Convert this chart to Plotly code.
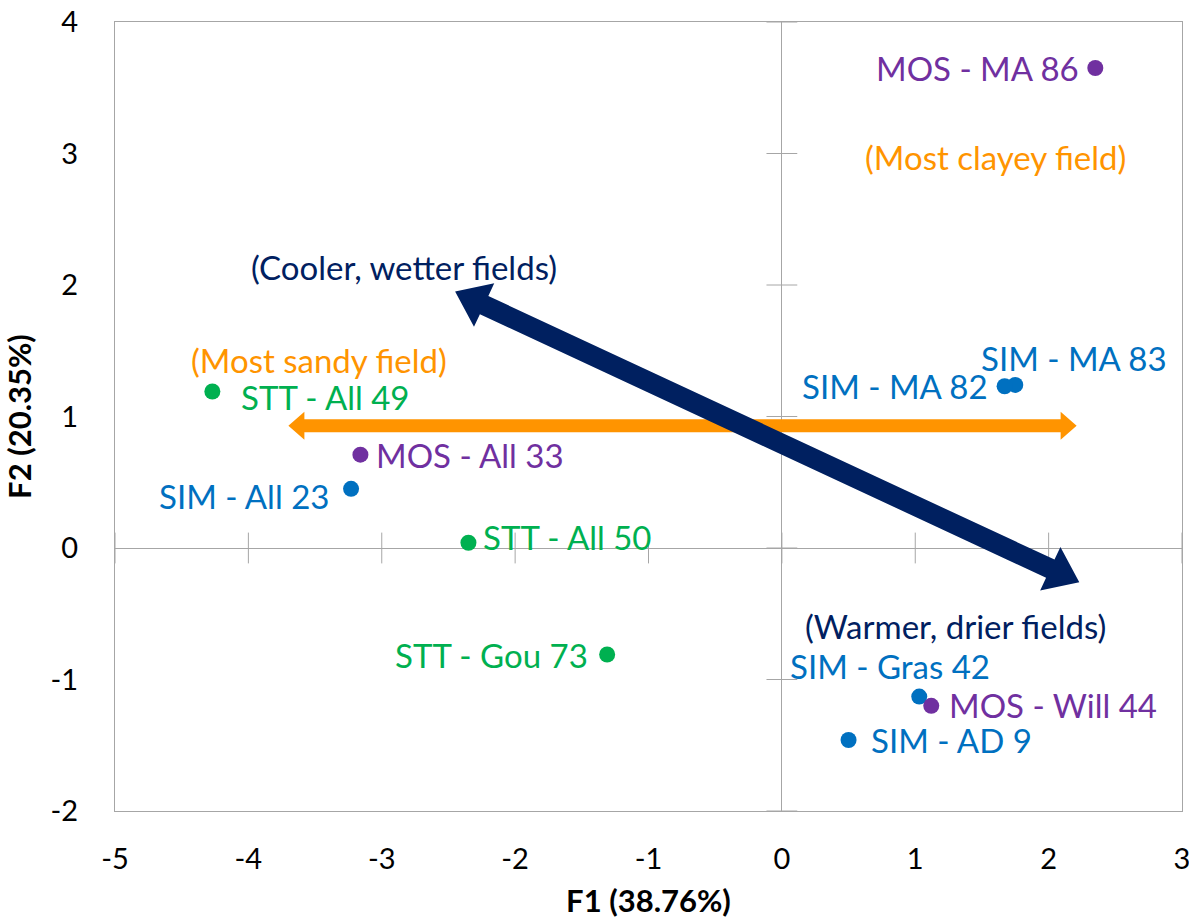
import plotly.graph_objects as go
import numpy as np

# ---------------- data ----------------
labels = ["MOS - MA 86", "SIM - MA 83", "SIM - MA 82", "STT - All 49", "MOS - All 33",
          "SIM - All 23", "STT - All 50", "STT - Gou 73", "SIM - Gras 42", "MOS - Will 44", "SIM - AD 9"]
groups = ["MOS", "SIM", "SIM", "STT", "MOS", "SIM", "STT", "STT", "SIM", "MOS", "SIM"]
f1 = [2.35, 1.75, 1.67, -4.27, -3.16, -3.23, -2.35, -1.31, 1.03, 1.12, 0.50]
f2 = [3.65, 1.24, 1.23, 1.19, 0.71, 0.45, 0.04, -0.81, -1.13, -1.20, -1.46]

x_ticks = [-5, -4, -3, -2, -1, 0, 1, 2, 3]
y_ticks = [-2, -1, 0, 1, 2, 3, 4]
x_tick_text = ["-5", "-4", "-3", "-2", "-1", "0", "1", "2", "3"]
y_tick_text = ["-2", "-1", "0", "1", "2", "3", "4"]

# arrows (data coordinates of tips)
climate_arrow = [(-2.45, 1.95), (2.23, -0.26)]
texture_arrow = [(-3.70, 0.93), (2.21, 0.93)]

# ---------------- style ----------------
colors = {"MOS": "#7030A0", "SIM": "#0070C0", "STT": "#00B050"}
NAVY = "#002060"
ORANGE = "#FF9400"
GRID = "#A6A6A6"
FONT = "Lato"

# label placement: (xanchor, xshift px, yshift px)
label_pos = [("right", -14, 0), ("center", 59, 27), ("right", -15, 0), ("left", 27, -5),
             ("left", 14, 0), ("right", -20, -7), ("left", 13, 6), ("right", -17, 0),
             ("center", -29, 31), ("left", 16, 1), ("left", 20, 0)]

W, H = 1189, 919
ML, MR, MT, MB = 115, 7, 22, 108
XR = [-5, 3]
YR = [-2, 4]
PW, PH = W - ML - MR, H - MT - MB
sx = PW / (XR[1] - XR[0])
sy = PH / (YR[1] - YR[0])


def arrow_path(p0, p1, half_shaft, head_len, head_half):
    a = np.array([p0[0] * sx, p0[1] * sy])
    b = np.array([p1[0] * sx, p1[1] * sy])
    d = b - a
    L = np.linalg.norm(d)
    u = d / L
    n = np.array([-u[1], u[0]])
    pts = [
        a,
        a + u * head_len + n * head_half,
        a + u * head_len + n * half_shaft,
        b - u * head_len + n * half_shaft,
        b - u * head_len + n * head_half,
        b,
        b - u * head_len - n * head_half,
        b - u * head_len - n * half_shaft,
        a + u * head_len - n * half_shaft,
        a + u * head_len - n * head_half,
    ]
    s = "M " + " L ".join(f"{p[0] / sx:.5f},{p[1] / sy:.5f}" for p in pts) + " Z"
    return s


fig = go.Figure()

# tick marks crossing the zero axes
fig.add_trace(go.Scatter(x=[0] * len(y_ticks), y=y_ticks, mode="markers",
                         marker=dict(symbol="line-ew", size=22, line=dict(color=GRID, width=1)),
                         hoverinfo="skip", showlegend=False))
fig.add_trace(go.Scatter(x=x_ticks, y=[0] * len(x_ticks), mode="markers",
                         marker=dict(symbol="line-ns", size=22, line=dict(color=GRID, width=1)),
                         hoverinfo="skip", showlegend=False))

# arrows
fig.add_shape(type="path", path=arrow_path(texture_arrow[0], texture_arrow[1], 6.5, 16, 14),
              xref="x", yref="y", fillcolor=ORANGE, line=dict(width=0))
fig.add_shape(type="path", path=arrow_path(climate_arrow[0], climate_arrow[1], 10, 32, 24),
              xref="x", yref="y", fillcolor=NAVY, line=dict(width=0))

# points
for g in ["SIM", "MOS", "STT"]:
    idx = [i for i, gg in enumerate(groups) if gg == g]
    fig.add_trace(go.Scatter(x=[f1[i] for i in idx], y=[f2[i] for i in idx], mode="markers",
                             marker=dict(size=16, color=colors[g]), name=g, showlegend=False))

for i, lab in enumerate(labels):
    xa, xs, ys = label_pos[i]
    fig.add_annotation(x=f1[i], y=f2[i], text=lab, showarrow=False, xanchor=xa, yanchor="middle",
                       xshift=xs, yshift=ys, font=dict(family=FONT, size=33, color=colors[groups[i]]))

notes = [("(Cooler, wetter fields)", -2.83, 2.14, NAVY),
         ("(Warmer, drier fields)", 1.30, -0.59, NAVY),
         ("(Most sandy field)", -3.47, 1.43, ORANGE),
         ("(Most clayey field)", 1.60, 2.97, ORANGE)]
for t, x, y, c in notes:
    fig.add_annotation(x=x, y=y, text=t, showarrow=False, xanchor="center", yanchor="middle",
                       font=dict(family=FONT, size=33, color=c))

fig.update_layout(
    width=W, height=H,
    margin=dict(l=ML, r=MR, t=MT, b=MB, autoexpand=False),
    plot_bgcolor="white", paper_bgcolor="white",
    showlegend=False,
    font=dict(family=FONT, color="black"),
)
fig.update_xaxes(range=XR, tickvals=x_ticks, ticktext=x_tick_text, showgrid=False, zeroline=True,
                 zerolinecolor=GRID, zerolinewidth=1, showline=True, linecolor=GRID, linewidth=1,
                 mirror=True, ticks="", tickfont=dict(size=29, family=FONT), ticklabelstandoff=22,
                 automargin=False, ticklabeloverflow="allow",
                 title=dict(text="<b>F1 (38.76%)</b>", font=dict(size=31, family=FONT), standoff=18))
fig.update_yaxes(range=YR, tickvals=y_ticks, ticktext=y_tick_text, showgrid=False, zeroline=True,
                 zerolinecolor=GRID, zerolinewidth=1, showline=True, linecolor=GRID, linewidth=1,
                 mirror=True, ticks="", tickfont=dict(size=29, family=FONT), ticklabelstandoff=30,
                 automargin=False, ticklabeloverflow="allow",
                 title=dict(text="<b>F2 (20.35%)</b>", font=dict(size=31, family=FONT), standoff=20))

fig.write_html("out.html")
